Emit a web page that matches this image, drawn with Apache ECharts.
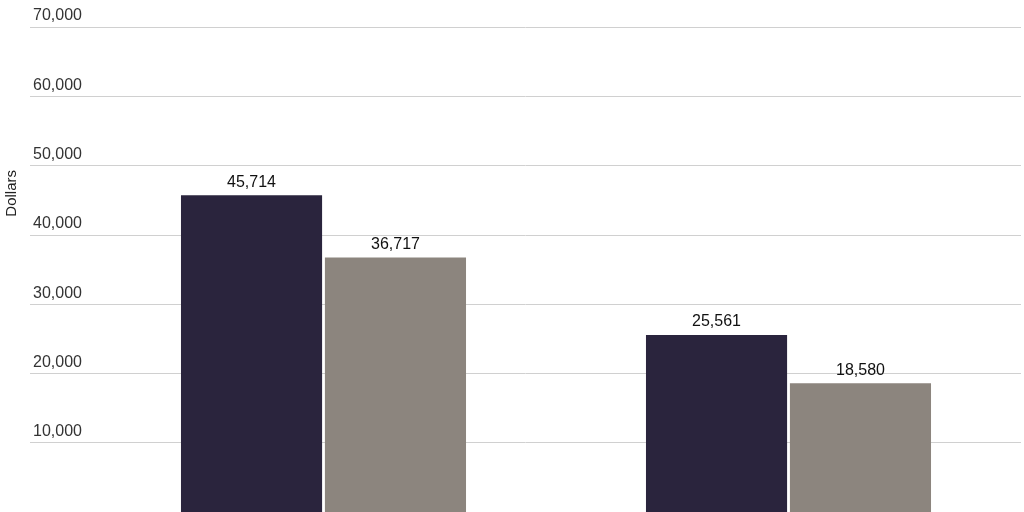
<!DOCTYPE html>
<html><head><meta charset="utf-8">
<script src="https://cdn.jsdelivr.net/npm/echarts@6/dist/echarts.min.js"></script>
<style>html,body{margin:0;background:#fff}#c{width:1024px;height:512px}</style>
</head><body><div id="c"></div>
<script>
const categories = ['Group A', 'Group B'];
const series1 = [45714, 25561];
const series2 = [36717, 18580];
const chart = echarts.init(document.getElementById('c'));
const yCommon = {type:'value', min:0, max:70000, interval:10000};
chart.setOption({
  grid:[{left:91, width:930, top:27, height:512},{left:30, width:991, top:27, height:512}],
  graphic:[{type:'text', left:4, top:170, rotation:Math.PI/2, style:{text:'Dollars', fontSize:15, fill:'#222', fontFamily:'Liberation Sans'}}],
  xAxis:[
    {type:'category', data:categories, gridIndex:0, axisLine:{show:false}, axisTick:{show:false}, axisLabel:{show:false}},
    {type:'value', gridIndex:1, show:false}
  ],
  yAxis:[
    Object.assign({gridIndex:0, show:false}, yCommon),
    Object.assign({gridIndex:1, position:'left',
      axisLine:{show:false}, axisTick:{show:false},
      splitLine:{lineStyle:{color:'#d0d0d0'}},
      axisLabel:{inside:true, verticalAlign:'bottom', margin:3, padding:[0,0,3,0], fontSize:16, color:'#333', fontFamily:'Liberation Sans',
        formatter:v=>v===0?'':v.toLocaleString('en-US')}}, yCommon)
  ],
  series:[
    {type:'bar', data:series1, xAxisIndex:0, yAxisIndex:0, barGap:'2%', barCategoryGap:'38.7%', itemStyle:{color:'#2a243d'},
      label:{show:true, position:'top', fontSize:16, color:'#111', fontFamily:'Liberation Sans', formatter:p=>p.value.toLocaleString('en-US')}},
    {type:'bar', data:series2, xAxisIndex:0, yAxisIndex:0, itemStyle:{color:'#8c857e'},
      label:{show:true, position:'top', fontSize:16, color:'#111', fontFamily:'Liberation Sans', formatter:p=>p.value.toLocaleString('en-US')}}
  ]
});
</script></body></html>
